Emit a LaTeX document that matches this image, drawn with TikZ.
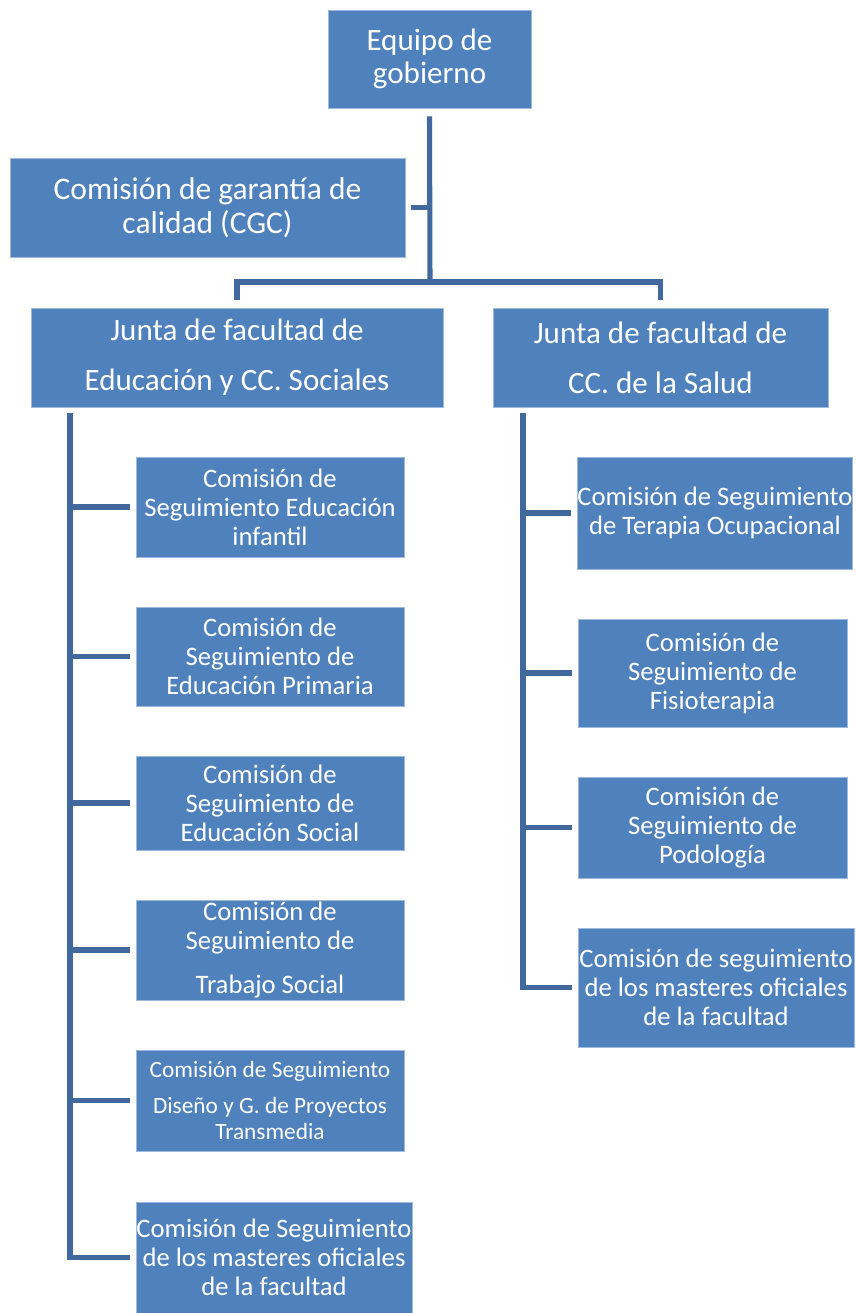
\documentclass[tikz,border=0pt]{standalone}
\usepackage{fontspec}
\setmainfont{Carlito}
\definecolor{boxblue}{RGB}{79,129,189}
\definecolor{linkblue}{RGB}{66,105,157}
\begin{document}
\begin{tikzpicture}[x=0.75pt,y=-0.75pt,
  box/.style={fill=boxblue, draw=boxblue!55!white, line width=0.6pt, text=white, align=center, inner sep=0pt},
  conn/.style={draw=linkblue, line width=3.8pt},
  big/.style={font={\fontsize{23.3pt}{24.75pt}\selectfont}},
  mid/.style={font={\fontsize{20pt}{21.75pt}\selectfont}},
  small/.style={font={\fontsize{17.5pt}{19.5pt}\selectfont}}
]
\useasboundingbox (0,0) rectangle (856,1313);
% top level
\node[box, big, minimum width=203*0.75pt, minimum height=98*0.75pt] (eq) at (429.5,59) {Equipo de\\gobierno};
\node[box, big, font={\fontsize{23.6pt}{25.5pt}\selectfont}, minimum width=395*0.75pt, minimum height=99*0.75pt] (cgc) at (207.5,207.5) {Comisión de garantía de\\calidad (CGC)};
\node[box, font={\fontsize{23.3pt}{37.5pt}\selectfont}, minimum width=412*0.75pt, minimum height=99*0.75pt] (jl) at (237,357.5) {Junta de facultad de\\Educación y CC. Sociales};
\node[box, font={\fontsize{23.3pt}{37.5pt}\selectfont}, minimum width=335*0.75pt, minimum height=99*0.75pt] (jr) at (660.5,357.5) {Junta de facultad de\\CC. de la Salud};
% left children
\node[box, mid, minimum width=268*0.75pt, minimum height=100*0.75pt] (l1) at (270,507) {Comisión de\\Seguimiento Educación\\infantil};
\node[box, mid, minimum width=268*0.75pt, minimum height=99*0.75pt] (l2) at (270,656.5) {Comisión de\\Seguimiento de\\Educación Primaria};
\node[box, mid, minimum width=268*0.75pt, minimum height=94*0.75pt] (l3) at (270,803) {Comisión de\\Seguimiento de\\Educación Social};
\node[box, mid, minimum width=268*0.75pt, minimum height=100*0.75pt] (l4) at (270,950) {Comisión de\\Seguimiento de\\[11pt]Trabajo Social};
\node[box, small, minimum width=268*0.75pt, minimum height=101*0.75pt] (l5) at (270,1100.5) {Comisión de Seguimiento\\[8pt]Diseño y G. de Proyectos\\Transmedia};
\node[box, mid, minimum width=276*0.75pt, minimum height=111*0.75pt] (l6) at (274,1257.5) {Comisión de Seguimiento\\de los masteres oficiales\\de la facultad};
% right children
\node[box, mid, minimum width=274*0.75pt, minimum height=112*0.75pt] (r1) at (715,513) {Comisión de Seguimiento\\de Terapia Ocupacional};
\node[box, mid, minimum width=269*0.75pt, minimum height=108*0.75pt] (r2) at (712.5,673) {Comisión de\\Seguimiento de\\Fisioterapia};
\node[box, mid, minimum width=269*0.75pt, minimum height=101*0.75pt] (r3) at (712.5,827.5) {Comisión de\\Seguimiento de\\Podología};
\node[box, mid, minimum width=276*0.75pt, minimum height=119*0.75pt] (r4) at (716,987.5) {Comisión de seguimiento\\de los masteres oficiales\\de la facultad};
% connectors top
\coordinate (bus) at (430,282);
\draw[conn] ([yshift=-6pt]eq.south) -- (bus);
\draw[conn] ([xshift=4.5pt]cgc.east) -- (cgc.east -| bus);
\draw[conn] ([yshift=6pt]jl.north) |- (bus) -| ([yshift=6pt]jr.north);
% left trunk
\coordinate (ltop) at (70,413);
\draw[conn] (ltop) |- ([xshift=-4.5pt]l6.west);
\foreach \n in {l1,l2,l3,l4,l5}
  \draw[conn] ([xshift=-4.5pt]\n.west) -- (\n.west -| ltop);
% right trunk
\coordinate (rtop) at (523,413);
\draw[conn] (rtop) |- ([xshift=-4.5pt]r4.west);
\foreach \n in {r1,r2,r3}
  \draw[conn] ([xshift=-4.5pt]\n.west) -- (\n.west -| rtop);
\end{tikzpicture}
\end{document}
